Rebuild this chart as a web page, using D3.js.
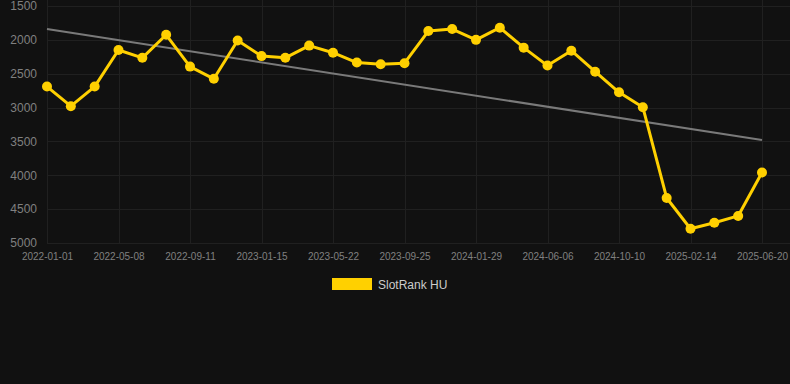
<!DOCTYPE html>
<html>
<head>
<meta charset="utf-8">
<script src="https://cdn.jsdelivr.net/npm/d3@7"></script>
<style>
  html, body { margin: 0; padding: 0; background: #111111; }
  svg { display: block; font-family: "Liberation Sans", Arial, sans-serif; }
</style>
</head>
<body>
<div id="chart"></div>
<script>
// rank over time, lower number = better, so the y axis runs upside down
const dates = [
  "2022-01-01", "2022-02-12", "2022-03-26", "2022-05-08", "2022-06-19", "2022-07-31",
  "2022-09-11", "2022-10-23", "2022-12-04", "2023-01-15", "2023-02-26", "2023-04-09",
  "2023-05-22", "2023-07-03", "2023-08-14", "2023-09-25", "2023-11-06", "2023-12-18",
  "2024-01-29", "2024-03-11", "2024-04-23", "2024-06-06", "2024-07-18", "2024-08-29",
  "2024-10-10", "2024-11-21", "2025-01-02", "2025-02-14", "2025-03-28", "2025-05-09",
  "2025-06-20"
];
const rank = [
  2690, 2980, 2690, 2150, 2265, 1925, 2395, 2575, 2010, 2240, 2265, 2085,
  2190, 2335, 2360, 2345, 1870, 1840, 2000, 1820, 2115, 2380, 2160, 2470,
  2775, 2995, 4335, 4790, 4700, 4600, 3960
];
const trend = [1840, 3480]; // first / last value of the trend line
const yTicks = [1500, 2000, 2500, 3000, 3500, 4000, 4500, 5000];
const seriesName = "SlotRank HU";

const W = 790, H = 384;
const margin = { top: 6, right: 28, bottom: 141, left: 47 };
const gold = "#ffd000";

const svg = d3.select("#chart").append("svg").attr("width", W).attr("height", H);

const x = d3.scalePoint().domain(d3.range(dates.length)).range([margin.left, W - margin.right]);
const y = d3.scaleLinear().domain([1500, 5000]).range([margin.top, H - margin.bottom]);

const shownIdx = dates.map((d, i) => i).filter((i) => i % 3 === 0);

// grid
const grid = svg.append("g").attr("stroke", "#202020").attr("stroke-width", 1);
grid.selectAll("line.h").data(yTicks).join("line").attr("class", "h")
  .attr("x1", margin.left).attr("x2", W)
  .attr("y1", (d) => Math.round(y(d)) + 0.5).attr("y2", (d) => Math.round(y(d)) + 0.5);
grid.selectAll("line.v").data(shownIdx).join("line").attr("class", "v")
  .attr("x1", (i) => Math.round(x(i)) + 0.5).attr("x2", (i) => Math.round(x(i)) + 0.5)
  .attr("y1", 0).attr("y2", y(5000));

// axes
const yAxis = d3.axisLeft(y).tickValues(yTicks).tickFormat(d3.format("d")).tickSize(0).tickPadding(10);
svg.append("g").attr("transform", `translate(${margin.left},0)`).call(yAxis)
  .call((g) => g.select(".domain").remove())
  .call((g) => g.selectAll("text").attr("fill", "#808080").attr("font-size", 12)
    .attr("font-family", "Liberation Sans, Arial, sans-serif"));

const xAxis = d3.axisBottom(x).tickValues(shownIdx).tickFormat((i) => dates[i]).tickSize(0).tickPadding(10);
svg.append("g").attr("transform", `translate(0,${y(5000)})`).call(xAxis)
  .call((g) => g.select(".domain").remove())
  .call((g) => g.selectAll("text").attr("fill", "#808080").attr("font-size", 10)
    .attr("font-family", "Liberation Sans, Arial, sans-serif"));

// trend
svg.append("line")
  .attr("x1", x(0)).attr("y1", y(trend[0]))
  .attr("x2", x(dates.length - 1)).attr("y2", y(trend[1]))
  .attr("stroke", "#7a7a7a").attr("stroke-width", 2);

// series
const line = d3.line().x((d, i) => x(i)).y((d) => y(d));
svg.append("path").datum(rank).attr("d", line)
  .attr("fill", "none").attr("stroke", gold).attr("stroke-width", 3).attr("stroke-linejoin", "round");
svg.append("g").selectAll("circle").data(rank).join("circle")
  .attr("cx", (d, i) => x(i)).attr("cy", (d) => y(d)).attr("r", 5).attr("fill", gold);

// legend
const lg = svg.append("g").attr("transform", "translate(332,278)");
lg.append("rect").attr("width", 40).attr("height", 12).attr("fill", gold);
lg.append("text").attr("x", 46).attr("y", 10.5).attr("fill", "#cccccc").attr("font-size", 12).text(seriesName);
</script>
</body>
</html>
